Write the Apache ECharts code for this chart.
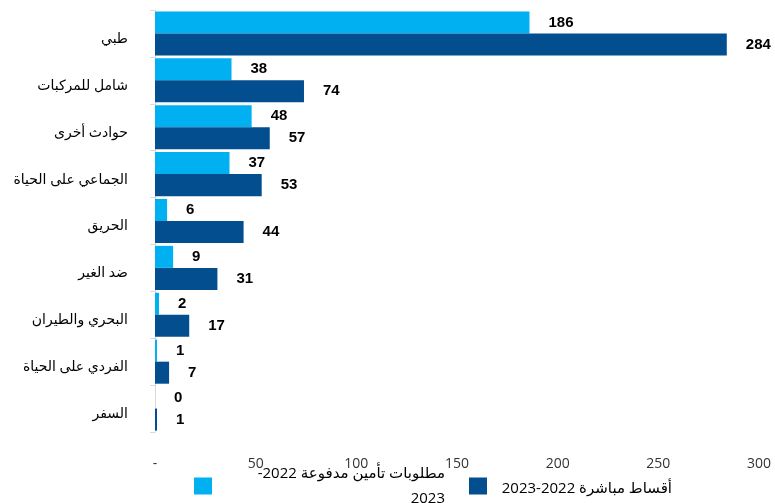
<!DOCTYPE html>
<html><head><meta charset="utf-8">
<script src="https://cdn.jsdelivr.net/npm/echarts@6/dist/echarts.min.js"></script>
<style>html,body{margin:0;padding:0;background:#fff}#c{width:775px;height:503px}</style>
</head><body><div id="c"></div>
<script>
const categories = ['طبي','شامل للمركبات','حوادث أخرى','الجماعي على الحياة','الحريق','ضد الغير','البحري والطيران','الفردي على الحياة','السفر'];
const claimsPaid = [186, 38, 48, 37, 6, 9, 2, 1, 0];
const premiums = [284, 74, 57, 53, 44, 31, 17, 7, 1];
const xTicks = { min: 0, max: 300, interval: 50 };
const seriesNames = ['مطلوبات تأمين مدفوعة 2022-2023', 'أقساط مباشرة 2022-2023'];
const legendLines = ['مطلوبات تأمين مدفوعة 2022-\u200F', '2023'];

const chart = echarts.init(document.getElementById('c'));
const lbl = { show: true, position: 'right', distance: 19, color: '#000', fontWeight: 'bold', fontSize: 15, fontFamily: 'Liberation Sans, Arial, sans-serif' };
chart.setOption({
  animation: false,
  textStyle: { fontFamily: 'Open Sans, DejaVu Sans, sans-serif' },
  grid: { left: 155, right: 16, top: 10, bottom: 71, containLabel: false },
  xAxis: {
    type: 'value', min: xTicks.min, max: xTicks.max, interval: xTicks.interval,
    axisLine: { show: false }, axisTick: { show: false }, splitLine: { show: false },
    axisLabel: { color: '#333', fontSize: 14, margin: 25, formatter: v => v === 0 ? '-' : String(v) }
  },
  yAxis: {
    type: 'category', data: categories, inverse: true,
    axisLine: { show: true, lineStyle: { color: '#d9d9d9' } },
    axisTick: { show: true, length: 5, lineStyle: { color: '#d9d9d9' } },
    axisLabel: { color: '#000', fontSize: 14, margin: 27, verticalAlign: 'top', lineHeight: 11 }
  },
  legend: {
    top: 466, left: 194, padding: 0, itemWidth: 18, itemHeight: 17, itemGap: 24, icon: 'rect',
    data: seriesNames,
    formatter: n => n === seriesNames[0] ? '{a|' + legendLines[0] + '}\n{a|' + legendLines[1] + '}' : '{b|' + n + '}',
    textStyle: { color: '#000', fontSize: 15, rich: { a: { width: 228, align: 'right', lineHeight: 25, fontSize: 15 }, b: { width: 180, align: 'right', fontSize: 15, lineHeight: 25, padding: [6, 0, 0, 0] } } }
  },
  series: [
    { name: seriesNames[0], type: 'bar', data: claimsPaid, barGap: '0%', barCategoryGap: '6%', itemStyle: { color: '#00B0F0' }, label: lbl },
    { name: seriesNames[1], type: 'bar', data: premiums, barGap: '0%', barCategoryGap: '6%', itemStyle: { color: '#034E8F' }, label: lbl }
  ]
});
</script></body></html>
